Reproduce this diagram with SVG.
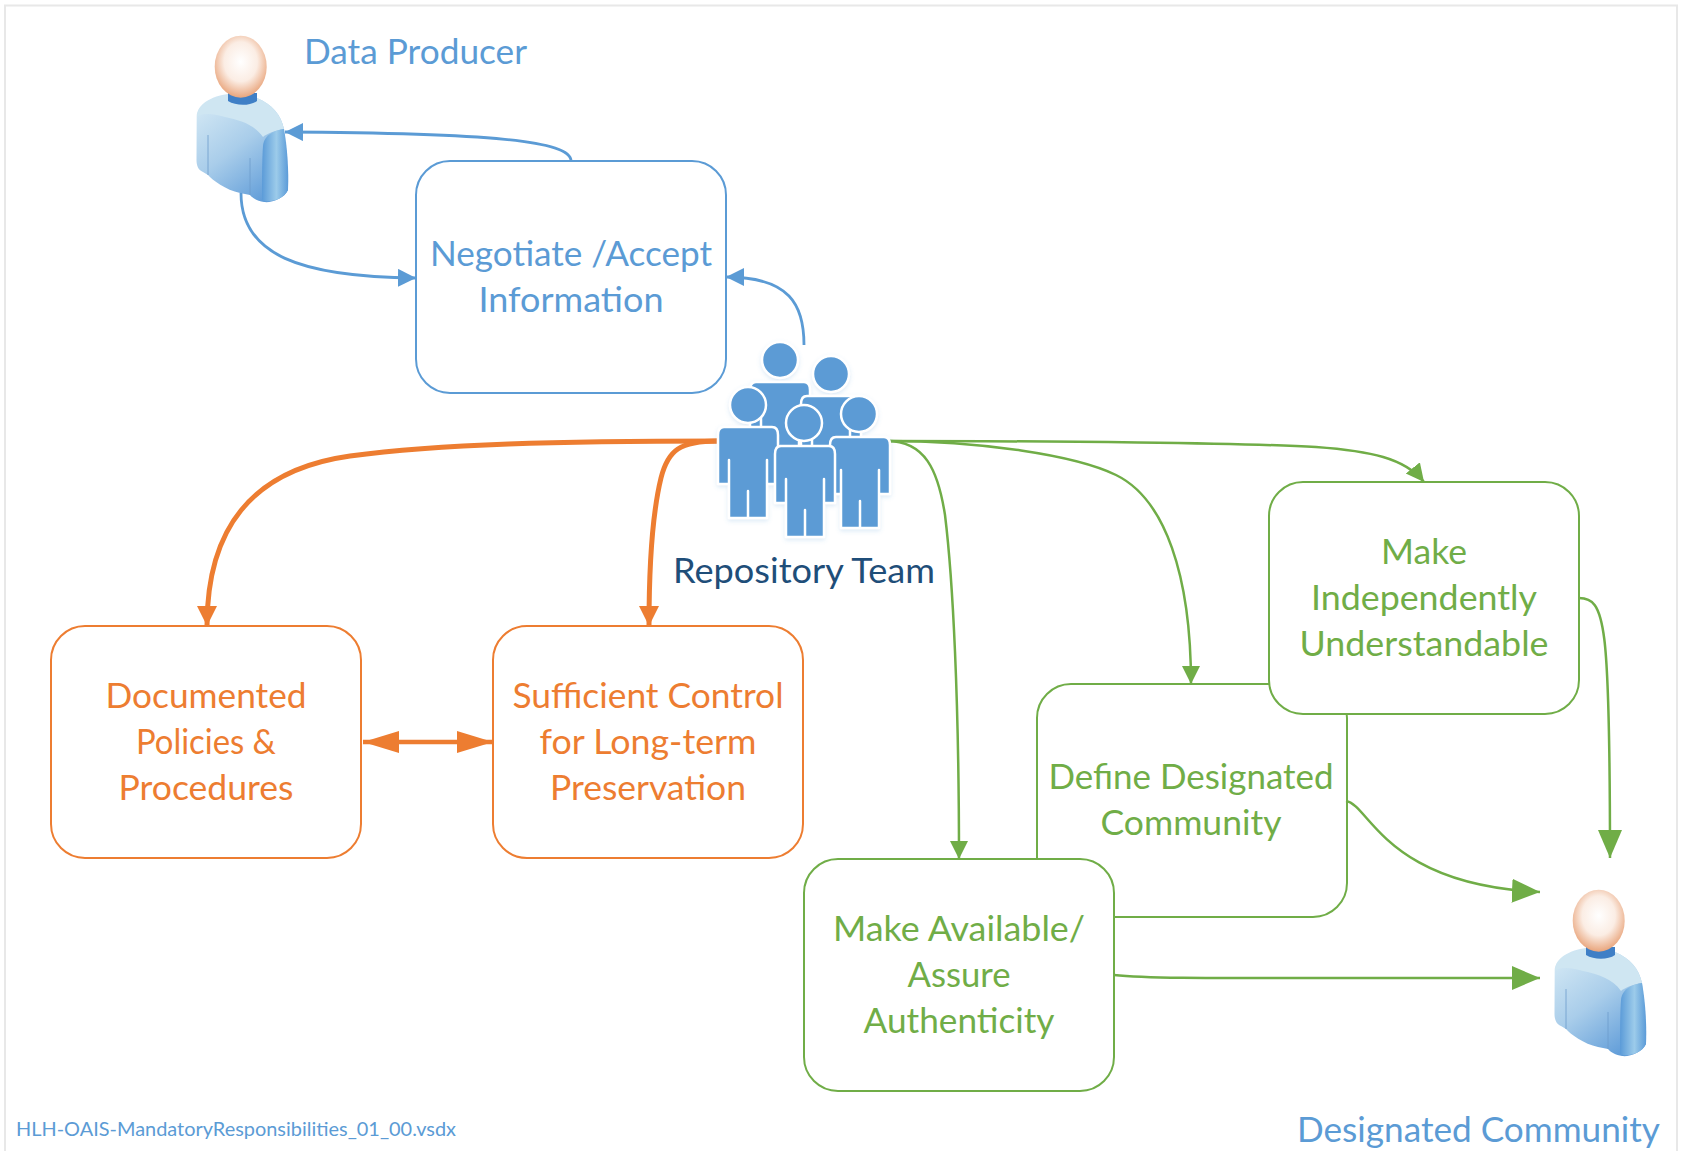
<svg xmlns="http://www.w3.org/2000/svg" width="1681" height="1151" viewBox="0 0 1681 1151">
<style>
text{font-family:"Lato","Open Sans","Liberation Sans",sans-serif;text-anchor:middle}
.box{fill:#fff;stroke-width:2}
.b{stroke:#5B9BD5;fill:#5B9BD5}.o{stroke:#ED7D31;fill:#ED7D31}.g{stroke:#70AD47;fill:#70AD47}
text.b,text.o,text.g{stroke:none;font-size:34px}
rect.b,rect.o,rect.g{fill:#fff}
.c{fill:none;stroke-width:2.5}
.cb{stroke:#5B9BD5;stroke-width:2.8}.co{stroke:#ED7D31;stroke-width:5}.cg{stroke:#70AD47}
.tm{fill:#5B9BD5;stroke:#fff;stroke-width:2.5;stroke-linejoin:round}
</style>
<defs>
<radialGradient id="head" cx="0.5" cy="0.42" r="0.58"><stop offset="0" stop-color="#fff"/><stop offset="0.55" stop-color="#FBEDE4"/><stop offset="1" stop-color="#E9A57C"/></radialGradient>
<linearGradient id="bodyG" x1="0.1" y1="0" x2="0.75" y2="1"><stop offset="0" stop-color="#D6EAF5"/><stop offset="0.5" stop-color="#A9CDEA"/><stop offset="1" stop-color="#5E9BD8"/></linearGradient>
<linearGradient id="armG" x1="0" y1="0" x2="1" y2="0"><stop offset="0" stop-color="#5B9BD8"/><stop offset="0.55" stop-color="#9CCBEA"/><stop offset="1" stop-color="#5B9BD8"/></linearGradient>
<filter id="soft" x="-10%" y="-10%" width="120%" height="120%"><feDropShadow dx="0" dy="2" stdDeviation="2" flood-color="#5B9BD5" flood-opacity="0.2"/></filter>
<marker id="ab" markerUnits="userSpaceOnUse" markerWidth="20" markerHeight="20" refX="18" refY="9" orient="auto"><path d="M0,0L18,9L0,18Z" fill="#5B9BD5"/></marker>
<marker id="ao" markerUnits="userSpaceOnUse" markerWidth="22" markerHeight="22" refX="20" refY="10" orient="auto"><path d="M0,0L20,10L0,20Z" fill="#ED7D31"/></marker>
<marker id="aod" markerUnits="userSpaceOnUse" markerWidth="38" markerHeight="24" refX="36" refY="11" orient="auto-start-reverse"><path d="M0,0L36,11L0,22Z" fill="#ED7D31"/></marker>
<marker id="ag" markerUnits="userSpaceOnUse" markerWidth="20" markerHeight="20" refX="18" refY="9" orient="auto"><path d="M0,0L18,9L0,18Z" fill="#70AD47"/></marker>
<marker id="agb" markerUnits="userSpaceOnUse" markerWidth="30" markerHeight="26" refX="28" refY="12" orient="auto"><path d="M0,0L28,12L0,24Z" fill="#70AD47"/></marker>
<g id="person">
<path d="M196.700,116.700C197,104 212,96 228,94L257,98C272,104 281,115 284,129L288,190C285,198 272,203 264,202C258,201 252,198 250,195L240,193C226,190 212,180 208,175L203,172C198,170 196.500,165 196.500,160Z" fill="url(#bodyG)"/>
<path d="M197,117C197,104 212,97 228,95L257,98C272,104 281,115 284,129C276,130 266,134 263,137C255,125 240,120 225,117C212,113 200,113 197,117Z" fill="#CFE6F2"/>
<path d="M284,129C276,130 264,134 263,146C262,160 262,185 262,200C268,203 282,201 288,190C289,170 287,145 284,129Z" fill="url(#armG)"/>
<path d="M208,135V175M250,158V195" fill="none" stroke="#6C9CCB" stroke-width="0.8"/>
<path d="M228,93H257V101C250,106 236,106 228,101Z" fill="#3F7FC6"/>
<ellipse cx="240.700" cy="66.700" rx="26" ry="31" fill="url(#head)"/>
</g>
<path id="fig" d="M-24,0H24Q30,0 30,8V57H19V33V91H0V64V91H-19V33V57H-30V8Q-30,0 -24,0Z"/>
</defs>
<rect width="1681" height="1151" fill="#fff"/>
<path d="M5,1151V5.500H1677V1151" fill="none" stroke="#E8E8E8" stroke-width="2"/>
<g id="data-producer"><use href="#person"/><text class="b" x="304" y="64" style="text-anchor:start" textLength="223" lengthAdjust="spacingAndGlyphs">Data Producer</text></g>
<g id="negotiate"><rect class="box b" x="416" y="161" width="310" height="232" rx="34"/><text class="b" x="571" y="266" textLength="282" lengthAdjust="spacingAndGlyphs">Negotiate /Accept</text><text class="b" x="571" y="312" textLength="185" lengthAdjust="spacingAndGlyphs">Information</text></g>
<g id="documented"><rect class="box o" x="51" y="626" width="310" height="232" rx="34"/><text class="o" x="206" y="708" textLength="201" lengthAdjust="spacingAndGlyphs">Documented</text><text class="o" x="206" y="754" textLength="140" lengthAdjust="spacingAndGlyphs">Policies &amp;</text><text class="o" x="206" y="800" textLength="175" lengthAdjust="spacingAndGlyphs">Procedures</text></g>
<g id="sufficient"><rect class="box o" x="493" y="626" width="310" height="232" rx="34"/><text class="o" x="648" y="708" textLength="271" lengthAdjust="spacingAndGlyphs">Sufficient Control</text><text class="o" x="648" y="754" textLength="217" lengthAdjust="spacingAndGlyphs">for Long-term</text><text class="o" x="648" y="800" textLength="196" lengthAdjust="spacingAndGlyphs">Preservation</text></g>
<g id="define"><rect class="box g" x="1037" y="684" width="310" height="233" rx="34"/><text class="g" x="1191" y="789" textLength="285" lengthAdjust="spacingAndGlyphs">Define Designated</text><text class="g" x="1191" y="835" textLength="181" lengthAdjust="spacingAndGlyphs">Community</text></g>
<g id="make-independent"><rect class="box g" x="1269" y="482" width="310" height="232" rx="34"/><text class="g" x="1424" y="564" textLength="86" lengthAdjust="spacingAndGlyphs">Make</text><text class="g" x="1424" y="610" textLength="226" lengthAdjust="spacingAndGlyphs">Independently</text><text class="g" x="1424" y="656" textLength="249" lengthAdjust="spacingAndGlyphs">Understandable</text></g>
<g id="make-available"><rect class="box g" x="804" y="859" width="310" height="232" rx="34"/><text class="g" x="959" y="941" textLength="252" lengthAdjust="spacingAndGlyphs">Make Available/</text><text class="g" x="959" y="987" textLength="103" lengthAdjust="spacingAndGlyphs">Assure</text><text class="g" x="959" y="1033" textLength="191" lengthAdjust="spacingAndGlyphs">Authenticity</text></g>
<g id="connectors">
<path class="c cb" marker-end="url(#ab)" d="M571,161C571,141 490,133 285,132"/>
<path class="c cb" marker-end="url(#ab)" d="M241,193C241,255 300,277 416,278"/>
<path class="c cb" marker-end="url(#ab)" d="M804,345C804,305 790,277 726,277"/>
<path class="c co" marker-end="url(#ao)" d="M718,441C560,441 440,444 350,456C250,470 207,530 207,626"/>
<path class="c co" marker-end="url(#ao)" d="M718,441C680,441 668,450 661,478C652,515 649,570 649,626"/>
<path class="c co" style="stroke-width:4.500" marker-start="url(#aod)" marker-end="url(#aod)" d="M363,742H493"/>
<path class="c cg" marker-end="url(#ag)" d="M887,441C925,441 938,470 945,515C953,580 959,700 959,859"/>
<path class="c cg" marker-end="url(#ag)" d="M887,441C980,441 1075,455 1116,475C1165,499 1191,575 1191,684"/>
<path class="c cg" marker-end="url(#ag)" d="M887,441C1050,441 1250,443 1316,447C1370,451 1405,458 1424,482"/>
<path class="c cg" marker-end="url(#agb)" d="M1579,598C1605,598 1610,620 1610,858"/>
<path class="c cg" marker-end="url(#agb)" d="M1346,801C1370,805 1385,885 1540,892"/>
<path class="c cg" marker-end="url(#agb)" d="M1114,975C1150,979 1200,978 1540,978"/>
</g>
<g id="repository-team" filter="url(#soft)">
<circle class="tm" cx="780" cy="360" r="18"/><use class="tm" href="#fig" x="780" y="382"/>
<circle class="tm" cx="831" cy="374" r="18"/><use class="tm" href="#fig" x="831" y="396"/>
<circle class="tm" cx="748" cy="405" r="18"/><use class="tm" href="#fig" x="748" y="427"/>
<circle class="tm" cx="859" cy="414" r="18"/><use class="tm" href="#fig" x="860" y="437"/>
<circle class="tm" cx="804" cy="423" r="18"/><use class="tm" href="#fig" x="805" y="446"/>
</g>
<text x="804" y="583" fill="#1F4E79" font-size="34" textLength="262" lengthAdjust="spacingAndGlyphs">Repository Team</text>
<g id="designated-community"><use href="#person" x="1358" y="854"/><text class="b" x="1660" y="1142" style="text-anchor:end" textLength="363" lengthAdjust="spacingAndGlyphs">Designated Community</text></g>
<text x="16" y="1136" fill="#5B9BD5" font-size="20" style="text-anchor:start" textLength="440" lengthAdjust="spacingAndGlyphs">HLH-OAIS-MandatoryResponsibilities_01_00.vsdx</text>
</svg>
